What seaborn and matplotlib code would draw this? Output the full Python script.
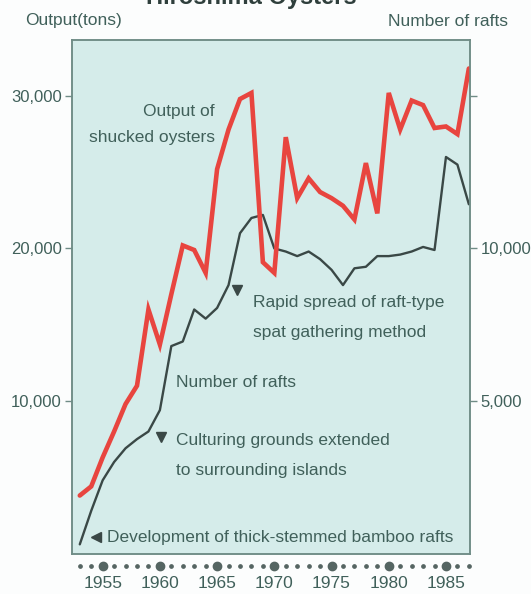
import numpy as np
import pandas as pd
import matplotlib
matplotlib.use("Agg")
import matplotlib.pyplot as plt
import matplotlib.transforms as mtransforms
import seaborn as sns

# ---------------- data ----------------
years = list(range(1953, 1988))
output_tons = [3800, 4400, 6300, 8000, 9800, 11000, 16000, 13700, 17000, 20200,
               19900, 18400, 25200, 27800, 29800, 30200, 19100, 18400, 27300, 23300,
               24600, 23700, 23300, 22800, 21900, 25600, 22300, 30200, 27800, 29700,
               29400, 27900, 28000, 27500, 31800]
rafts = [300, 1400, 2400, 3000, 3450, 3750, 4000, 4700, 6800, 6950,
         8000, 7700, 8050, 8800, 10500, 11000, 11100, 10000, 9900, 9750,
         9900, 9650, 9300, 8800, 9350, 9400, 9750, 9750, 9800, 9900,
         10050, 9950, 13000, 12750, 11450]
label_years = [1955, 1960, 1965, 1970, 1975, 1980, 1985]
left_ticks = [10000, 20000, 30000]
left_ticklabels = ["10,000", "20,000", "30,000"]
right_ticks = [5000, 10000, 15000]
right_ticklabels = ["5,000", "10,000", ""]

df = pd.DataFrame({"year": years, "output": output_tons, "rafts": rafts})

# ---------------- style ----------------
sns.set_style("white")
FONT = ["Liberation Sans Narrow", "Liberation Sans", "DejaVu Sans"]
plt.rcParams["font.family"] = FONT
TXT = "#40605a"
RED = "#e8453f"
DARK = "#3a4846"
BG = "#d5ecea"
FRAME = "#6f8c86"
FS = 12.5

fig = plt.figure(figsize=(5.31, 5.94), dpi=100, facecolor="#fcfdfd")
ax = fig.add_axes([72/531, 1-553.5/594, (470-72)/531, (553.5-40)/594])
ax.set_facecolor(BG)
ax2 = ax.twinx()

# rafts on lower axis (drawn underneath), output on upper axis
sns.lineplot(data=df, x="year", y="rafts", ax=ax, color=DARK, linewidth=1.7)
sns.lineplot(data=df, x="year", y="output", ax=ax2, color=RED, linewidth=3.3,
             solid_joinstyle="miter")

xlim = (1952.32, 1987.1)
ax.set_xlim(*xlim)
ax2.set_xlim(*xlim)
ax2.set_ylim(0, 33670)
ax.set_ylim(0, 33670/2)

# rafts axis on the right, tons axis on the left
ax.yaxis.tick_right()
ax.yaxis.set_label_position("right")
ax2.yaxis.tick_left()
ax2.yaxis.set_label_position("left")

ax2.set_yticks(left_ticks)
ax2.set_yticklabels(left_ticklabels)
ax.set_yticks(right_ticks)
ax.set_yticklabels(right_ticklabels)
for a in (ax, ax2):
    a.set_xlabel("")
    a.set_ylabel("")
    a.set_xticks([])
    a.tick_params(axis="y", length=5, width=1, color=FRAME, labelcolor=TXT,
                  labelsize=12, pad=2.5, direction="out")
    for s in a.spines.values():
        s.set_color(FRAME)
        s.set_linewidth(1.1)
ax.tick_params(axis="y", left=False, right=True, labelleft=False, labelright=True)
ax2.tick_params(axis="y", left=True, right=False, labelleft=True, labelright=False)

# year dots below the frame
trans = mtransforms.blended_transform_factory(ax2.transData, ax2.transAxes)
small = [y for y in years if y not in label_years]
ax2.plot(small, [-0.024]*len(small), "o", ms=2.4, color="#556562",
         transform=trans, clip_on=False)
ax2.plot(label_years, [-0.024]*len(label_years), "o", ms=6, color="#556562",
         transform=trans, clip_on=False)
for y in label_years:
    ax2.text(y, -0.059, str(y), transform=trans, ha="center", va="center",
             fontsize=FS, color=TXT, clip_on=False)

# axis titles
fig.text(25/531, 1-20/594, "Output(tons)", ha="left", va="center",
         fontsize=FS, color=TXT)
fig.text(508/531, 1-22/594, "Number of rafts", ha="right", va="center",
         fontsize=FS, color=TXT)
fig.text(251/531, 1-4/594, "Hiroshima Oysters", ha="center", va="baseline",
         fontsize=17, fontweight="bold", color="#2f3f3c")

# annotations (data coords on tons axis)
def t(x, y, s, ha="left"):
    ax2.text(x, y, s, ha=ha, va="center", fontsize=FS, color=TXT)

t(1964.8, 28950, "Output of", ha="right")
t(1964.8, 27250, "shucked oysters", ha="right")

ax2.plot([1966.7], [17300], marker="v", ms=6.5, color=DARK)
t(1968.1, 16430, "Rapid spread of raft-type")
t(1968.1, 14520, "spat gathering method")

t(1961.4, 11180, "Number of rafts")

ax2.plot([1960.1], [7650], marker="v", ms=6.5, color=DARK)
t(1961.4, 7380, "Culturing grounds extended")
t(1961.4, 5410, "to surrounding islands")

ax2.plot([1954.4], [1080], marker="<", ms=6.5, color=DARK)
t(1955.4, 1080, "Development of thick-stemmed bamboo rafts")

fig.savefig("out.png", dpi=100, facecolor=fig.get_facecolor())
